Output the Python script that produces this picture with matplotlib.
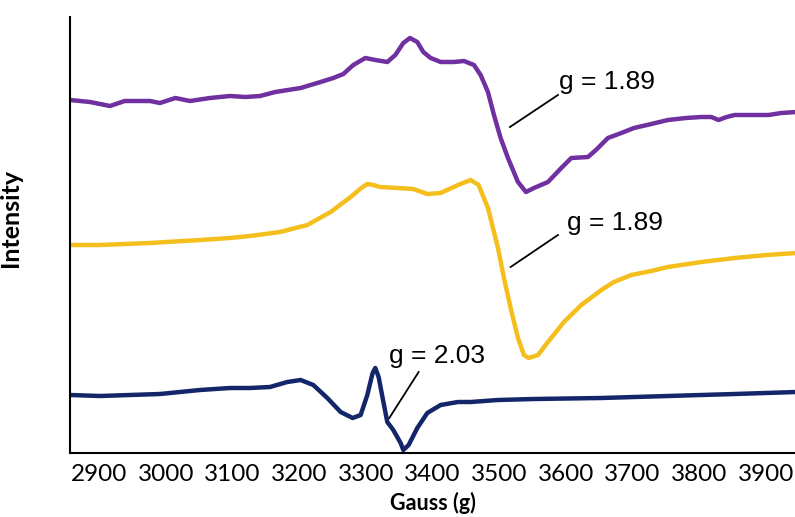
import matplotlib
matplotlib.use("Agg")
import matplotlib.pyplot as plt

# ---- data (Gauss, arbitrary intensity) ----
purple_g = [2856, 2886, 2916, 2938, 2976, 2991, 3014, 3036, 3066, 3096, 3119, 3141, 3164,
            3202, 3232, 3251, 3266, 3281, 3299, 3314, 3332, 3344, 3356, 3366, 3377, 3386,
            3397, 3412, 3432, 3447, 3462, 3472, 3483, 3492, 3502, 3513, 3528, 3540, 3552,
            3573, 3593, 3608, 3633, 3645, 3663, 3683, 3702, 3728, 3753, 3780, 3803, 3818,
            3829, 3841, 3853, 3878, 3904, 3923, 3946]
purple_i = [353, 351, 347, 352, 352, 350, 355, 352, 355, 357, 356, 357, 361,
            365, 371, 375, 379, 388, 395, 393, 391, 398, 410, 415, 411, 401,
            395, 391, 391, 392, 388, 378, 361, 338, 315, 295, 271, 261, 265,
            271, 285, 295, 296, 303, 315, 320, 325, 329, 333, 335, 336, 336,
            333, 336, 338, 338, 338, 340, 341]

yellow_g = [2856, 2901, 2976, 3051, 3096, 3126, 3171, 3212, 3247, 3277, 3293, 3302, 3311,
            3321, 3347, 3371, 3392, 3412, 3438, 3457, 3469, 3483, 3498, 3507, 3517, 3528,
            3537, 3544, 3558, 3573, 3597, 3623, 3653, 3672, 3698, 3728, 3753, 3803, 3853,
            3901, 3946]
yellow_i = [208, 208, 210, 213, 215, 217, 221, 228, 241, 256, 265, 269, 268,
            266, 265, 264, 259, 260, 268, 273, 268, 245, 205, 175, 145, 115,
            98, 95, 98, 111, 131, 148, 163, 171, 178, 182, 186, 191, 195,
            198, 200]

navy_g = [2856, 2901, 2946, 2991, 3051, 3096, 3126, 3156, 3182, 3202, 3221, 3242, 3262,
          3280, 3292, 3302, 3310, 3314, 3319, 3325, 3332, 3341, 3352, 3356, 3364, 3377,
          3392, 3412, 3438, 3457, 3498, 3552, 3653, 3753, 3853, 3946]
navy_i = [58, 57, 58, 59, 63, 65, 65, 66, 71, 73, 68, 55, 41,
          35, 38, 58, 80, 85, 76, 55, 31, 23, 10, 3, 8, 25,
          40, 48, 51, 51, 53, 54, 55, 57, 59, 61]

x_ticks = [2900, 3000, 3100, 3200, 3300, 3400, 3500, 3600, 3700, 3800, 3900]

labels = ["g = 1.89", "g = 1.89", "g = 2.03"]
label_xy = [(3590, 364), (3602, 223), (3334, 90)]
leader_from = [(3516, 326), (3517, 186), (3335, 35)]
leader_to = [(3588, 358), (3588, 218), (3379, 81)]

# ---- figure ----
fig = plt.figure(figsize=(7.95, 5.17), dpi=100)
ax = fig.add_axes([70 / 795, 1 - 453 / 517, 1 - 70 / 795 + 0.002, (453 - 17) / 517])

style = dict(lw=3.2, solid_joinstyle="round", solid_capstyle="round")
ax.plot(purple_g, purple_i, color="#7030A0", **style)
ax.plot(yellow_g, yellow_i, color="#F4BF1C", **style)
ax.plot(navy_g, navy_i, color="#13266A", **style)

for txt, (tx, ty), (fx, fy), (ex, ey) in zip(labels, label_xy, leader_from, leader_to):
    ax.plot([fx, ex], [fy, ey], color="black", lw=1.3)
    ax.text(tx, ty, txt, fontsize=19, family="Liberation Sans", ha="left", va="baseline")

ax.set_xlim(2856, 3946)
ax.set_ylim(0, 436)
ax.set_xticks(x_ticks)
ax.set_xticklabels([str(t) for t in x_ticks], family="Lato", fontsize=17.5)
ax.set_yticks([])
ax.tick_params(axis="x", length=0, pad=8)
for s in ["top", "right"]:
    ax.spines[s].set_visible(False)
for s in ["left", "bottom"]:
    ax.spines[s].set_linewidth(1.5)
    ax.spines[s].set_color("black")

ax.set_xlabel("Gauss (g)", family="Lato", fontweight="bold", fontsize=15.5, va="bottom")
ax.xaxis.set_label_coords(0.5, (453 - 514) / 436)
ax.set_ylabel("Intensity", family="Lato", fontweight="bold", fontsize=18)
ax.yaxis.set_label_coords(-0.066, 0.539)

fig.savefig("out.png", dpi=100)
